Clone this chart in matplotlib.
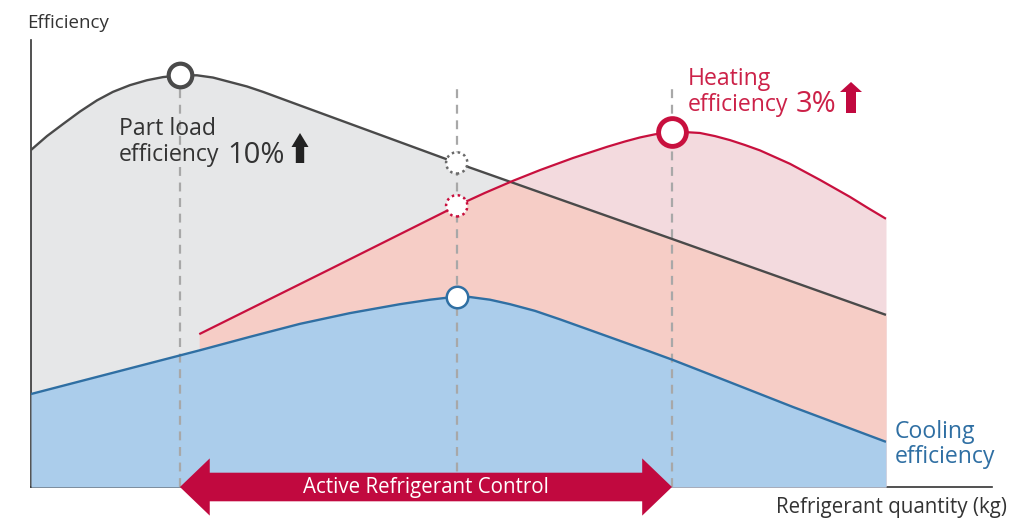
import numpy as np
import matplotlib
matplotlib.use("Agg")
import matplotlib.pyplot as plt
import matplotlib.transforms as mtransforms
from matplotlib.patches import Polygon

plt.rcParams["font.family"] = ["Open Sans", "DejaVu Sans"]

# Refrigerant quantity (relative units) and efficiency (relative units)
part_load_x = [0, 1.66, 3.33, 5.10, 6.87, 8.53, 10.30, 12.07, 13.73, 15.5, 17.27, 18.94,
               20.71, 22.48, 24.14, 25.91, 27.68, 44.3, 66.7, 88.97]
part_load_y = [75.4, 78.5, 81.2, 84.0, 86.5, 88.4, 89.9, 91.0, 91.7, 92.1, 92.1, 91.6,
               90.6, 89.6, 88.4, 87.0, 85.6, 72.5, 55.5, 38.5]

heating_x = [17.51, 30.9, 44.3, 47.24, 50.16, 52.97, 56.40, 59.94, 61.81, 63.37, 64.93, 66.7,
             68.05, 69.61, 71.18, 72.74, 74.30, 75.86, 77.42, 78.98, 80.54, 82.10, 83.66,
             85.22, 87.10, 88.97]
heating_y = [34.2, 48.5, 62.9, 65.8, 68.5, 70.9, 73.6, 76.1, 77.3, 78.2, 78.9, 79.35,
             79.4, 79.2, 78.5, 77.6, 76.5, 75.3, 73.8, 72.3, 70.5, 68.7, 66.8,
             64.9, 62.4, 60.0]

cooling_x = [0, 7.18, 12.38, 17.59, 22.79, 27.99, 33.19, 38.40, 41.52, 44.3, 45.68, 47.76,
             49.84, 52.45, 55.05, 58.17, 61.29, 64.41, 66.7, 72.42, 79.29, 88.97]
cooling_y = [20.8, 24.8, 27.7, 30.6, 33.6, 36.5, 38.9, 40.9, 41.9, 42.6, 42.5, 41.9,
             40.9, 39.4, 37.5, 35.1, 32.7, 30.3, 28.5, 23.7, 17.9, 10.1]

# Reference quantities: part-load optimum, standard charge, heating optimum
part_load_opt = 15.5
standard_charge = 44.3
heating_opt = 66.7
guide_top = 89.9

axis_title_y = "Efficiency"
axis_title_x = "Refrigerant quantity (kg)"
control_label = "Active Refrigerant Control"

GRAY_LINE = "#4a4a4a"
GRAY_FILL = "#e6e7e8"
RED_LINE = "#c8103e"
PINK_FILL = "#f3dade"
SALMON_FILL = "#f6cdc6"
BLUE_LINE = "#2f6fa3"
BLUE_FILL = "#abcdeb"
ARROW_RED = "#c1093f"
GUIDE = "#a8a8a8"

W, H = 1033, 520
fig = plt.figure(figsize=(W / 100, H / 100), dpi=100)
ax = fig.add_axes([31 / W, 33 / H, 961 / W, 447 / H])
ax.set_xlim(0, 100)
ax.set_ylim(0, 100)
for s in ("top", "right"):
    ax.spines[s].set_visible(False)
for s in ("left", "bottom"):
    ax.spines[s].set_color("#333333")
    ax.spines[s].set_linewidth(1.2)
ax.set_xticks([])
ax.set_yticks([])

# pixel transform (origin top-left) for annotations
PIX = mtransforms.Affine2D().scale(1 / W, -1 / H).translate(0, 1) + fig.transFigure

# area fills
xs = np.linspace(0, part_load_x[-1], 1500)
ax.fill_between(xs, 0, np.interp(xs, part_load_x, part_load_y), color=GRAY_FILL, lw=0, zorder=1)
ax.fill_between(heating_x, 0, heating_y, color=PINK_FILL, lw=0, zorder=2)
xr = np.linspace(heating_x[0], heating_x[-1], 1500)
overlap = np.minimum(np.interp(xr, heating_x, heating_y), np.interp(xr, part_load_x, part_load_y))
ax.fill_between(xr, 0, overlap, color=SALMON_FILL, lw=0, zorder=3)
ax.fill_between(cooling_x, 0, cooling_y, color=BLUE_FILL, lw=0, zorder=4)

# dashed guides
peak_y = part_load_y[part_load_x.index(part_load_opt)]
guide_kw = dict(color=GUIDE, lw=1.6, linestyles=(0, (4, 3)), zorder=5)
ax.vlines([part_load_opt], 0, peak_y, **guide_kw)
ax.vlines([standard_charge, heating_opt], 0, guide_top, **guide_kw)

# curves
line_kw = dict(solid_joinstyle="round", solid_capstyle="butt", zorder=6)
ax.plot(part_load_x, part_load_y, color=GRAY_LINE, lw=1.7, **line_kw)
ax.plot(heating_x, heating_y, color=RED_LINE, lw=1.6, **line_kw)
ax.plot(cooling_x, cooling_y, color=BLUE_LINE, lw=1.7, **line_kw)

# highlighted points
ax.plot(part_load_opt, peak_y, "o", ms=17, mfc="white", mec=GRAY_LINE, mew=3.0, zorder=8)
hy = heating_y[heating_x.index(heating_opt)]
ax.plot(heating_opt, hy, "o", ms=20, mfc="white", mec=RED_LINE, mew=3.5, zorder=8)
gy = part_load_y[part_load_x.index(standard_charge)]
ry = heating_y[heating_x.index(standard_charge)]
cy = cooling_y[cooling_x.index(standard_charge)]
ax.scatter([standard_charge], [gy], s=235, facecolors="white", edgecolors="#6a6a6a",
           linewidths=1.8, linestyles=(0, (1, 1.4)), zorder=8)
ax.scatter([standard_charge], [ry], s=235, facecolors="white", edgecolors=RED_LINE,
           linewidths=1.8, linestyles=(0, (1, 1.4)), zorder=8)
ax.plot(standard_charge, cy, "o", ms=15.5, mfc="white", mec=BLUE_LINE, mew=1.8, zorder=8)

# double-headed control arrow between the two optima
bt = mtransforms.blended_transform_factory(ax.transData, ax.transAxes)
hl = 3.1      # head length (x units)
bw = 0.032    # half body height (axes units)
hw = 0.064    # half head height (axes units)
pts = [(part_load_opt, 0), (part_load_opt + hl, hw), (part_load_opt + hl, bw),
       (heating_opt - hl, bw), (heating_opt - hl, hw), (heating_opt, 0),
       (heating_opt - hl, -hw), (heating_opt - hl, -bw), (part_load_opt + hl, -bw),
       (part_load_opt + hl, -hw)]
ax.add_patch(Polygon(pts, closed=True, transform=bt, color=ARROW_RED, lw=0,
                     clip_on=False, zorder=9))
ax.text((part_load_opt + heating_opt) / 2, -0.002, control_label, transform=bt,
        ha="center", va="center", color="white", fontsize=14.8, zorder=10)


def up_arrow(cx, top, base, bottom, head_half, shaft_half, color):
    p = [(cx, top), (cx + head_half, base), (cx + shaft_half, base), (cx + shaft_half, bottom),
         (cx - shaft_half, bottom), (cx - shaft_half, base), (cx - head_half, base)]
    fig.add_artist(Polygon(p, closed=True, transform=PIX, color=color, lw=0))


# texts
fig.text(27, 28, axis_title_y, transform=PIX, fontsize=13.5, color="#333333", va="baseline")
fig.text(776, 513, axis_title_x, transform=PIX, fontsize=14.8, color="#333333", va="baseline")

fig.text(119, 135, "Part load", transform=PIX, fontsize=16.6, color="#333333", va="baseline")
fig.text(119, 161, "efficiency", transform=PIX, fontsize=16.6, color="#333333", va="baseline")
fig.text(227, 163, "10%", transform=PIX, fontsize=21, color="#333333", va="baseline")
up_arrow(300, 133, 147, 163, 8.5, 4.2, "#222222")

HEAT_TXT = "#cc2148"
fig.text(688, 85, "Heating", transform=PIX, fontsize=16.6, color=HEAT_TXT, va="baseline")
fig.text(688, 111, "efficiency", transform=PIX, fontsize=16.6, color=HEAT_TXT, va="baseline")
fig.text(796, 112, "3%", transform=PIX, fontsize=21, color=HEAT_TXT, va="baseline")
up_arrow(851, 82, 92, 113, 11, 5, ARROW_RED)

fig.text(895, 438, "Cooling", transform=PIX, fontsize=16.6, color=BLUE_LINE, va="baseline")
fig.text(895, 463, "efficiency", transform=PIX, fontsize=16.6, color=BLUE_LINE, va="baseline")

fig.savefig("out.png", dpi=100)
